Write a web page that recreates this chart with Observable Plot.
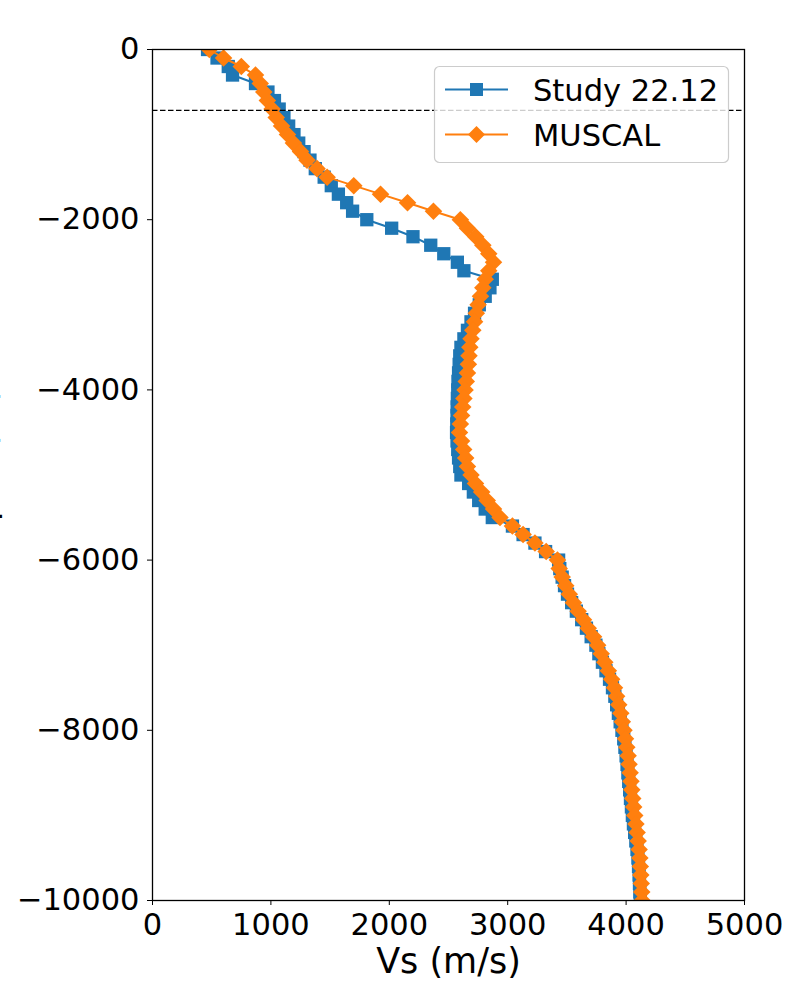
<!DOCTYPE html>
<html><head><meta charset="utf-8">
<script src="https://cdn.jsdelivr.net/npm/d3@7"></script>
<script src="https://cdn.jsdelivr.net/npm/@observablehq/plot@0.6"></script>
<style>
body{margin:0;background:#fff;font-family:"DejaVu Sans",sans-serif;}
#chart{position:relative;width:800px;height:1000px;overflow:hidden;}
#legend{position:absolute;left:0;top:0;pointer-events:none;}
</style></head><body><div id="chart"></div>
<script>
const depths = [0,-100,-200,-300,-400,-500,-600,-700,-800,-900,
 -1000,-1100,-1200,-1300,-1400,-1500,-1600,-1700,-1800,-1900,
 -2000,-2100,-2200,-2300,-2400,-2500,-2600,-2700,-2800,-2900,
 -3000,-3100,-3200,-3300,-3400,-3500,-3600,-3700,-3800,-3900,
 -4000,-4100,-4200,-4300,-4400,-4500,-4600,-4700,-4800,-4900,
 -5000,-5100,-5200,-5300,-5400,-5500,-5600,-5700,-5800,-5900,
 -6000,-6100,-6200,-6300,-6400,-6500,-6600,-6700,-6800,-6900,
 -7000,-7100,-7200,-7300,-7400,-7500,-7600,-7700,-7800,-7900,
 -8000,-8100,-8200,-8300,-8400,-8500,-8600,-8700,-8800,-8900,
 -9000,-9100,-9200,-9300,-9400,-9500,-9600,-9700,-9800,-9900,-10000];
const studyVs = [465,545,640,676,870,975,1030,1070,1110,1150,
 1195,1235,1280,1330,1375,1450,1510,1570,1640,1690,
 1810,2020,2200,2350,2460,2575,2630,2870,2850,2810,
 2760,2720,2690,2660,2630,2605,2595,2590,2585,2580,
 2578,2575,2573,2572,2570,2568,2572,2578,2585,2595,
 2605,2670,2710,2755,2810,2870,3040,3130,3230,3320,
 3430,3440,3460,3480,3505,3540,3580,3625,3665,3705,
 3745,3770,3800,3830,3860,3885,3905,3920,3935,3950,
 3965,3980,3990,4000,4008,4015,4022,4030,4037,4045,
 4053,4062,4072,4082,4092,4100,4105,4110,4113,4116,4120];
const muscalVs = [480,600,750,870,910,940,970,1010,1045,1090,
 1140,1190,1250,1305,1390,1475,1700,1926,2154,2373,
 2600,2660,2730,2790,2840,2880,2840,2810,2790,2770,
 2750,2735,2720,2705,2690,2680,2673,2668,2660,2650,
 2640,2630,2620,2610,2600,2593,2610,2628,2645,2660,
 2690,2728,2780,2827,2880,2935,3040,3130,3230,3325,
 3420,3435,3460,3490,3520,3555,3595,3640,3680,3725,
 3760,3790,3820,3850,3878,3902,3920,3938,3955,3968,
 3982,3995,4006,4017,4025,4034,4041,4048,4056,4064,
 4073,4083,4093,4102,4110,4116,4120,4124,4128,4132,4136];
const seriesNames = ["Study 22.12", "MUSCAL"];
const seriesColors = ["#1f77b4", "#ff7f0e"];
const dashDepth = [-715];
const xTicks = [0,1000,2000,3000,4000,5000];
const yTicks = [0,-2000,-4000,-6000,-8000,-10000];
const xLabel = "Vs (m/s)";
const yLabel = "Depth (m)";

const study = depths.map((d, i) => ({depth: d, vs: studyVs[i]}));
const muscal = depths.map((d, i) => ({depth: d, vs: muscalVs[i]}));
const fmt = d3.format("d");

const plot = Plot.plot({
  width: 800, height: 1000,
  marginLeft: 152, marginRight: 56, marginTop: 49, marginBottom: 100,
  style: {fontFamily: "DejaVu Sans", fontSize: "30.5px", background: "white", color: "black", overflow: "visible"},
  x: {domain: [0, 5000]},
  y: {domain: [-10000, 0]},
  marks: [
    Plot.line(study, {x: "vs", y: "depth", stroke: seriesColors[0], strokeWidth: 2, clip: true}),
    Plot.dot(study, {x: "vs", y: "depth", symbol: "square", r: 7.5, fill: seriesColors[0], stroke: null, clip: true}),
    Plot.line(muscal, {x: "vs", y: "depth", stroke: seriesColors[1], strokeWidth: 2, clip: true}),
    Plot.dot(muscal, {x: "vs", y: "depth", symbol: "diamond2", r: 7.9, fill: seriesColors[1], stroke: null, clip: true}),
    Plot.ruleY(dashDepth, {stroke: "black", strokeWidth: 1.2, strokeDasharray: "5.5,2.5"}),
    Plot.frame({stroke: "black", strokeWidth: 1.3}),
    Plot.axisX({ticks: xTicks, tickFormat: fmt, tickSize: 5, tickPadding: 8, label: null}),
    Plot.axisY({ticks: yTicks, tickFormat: fmt, tickSize: 5, tickPadding: 8, label: null}),
    Plot.text([xLabel], {frameAnchor: "bottom", dy: 72, fontSize: 35}),
    Plot.text([yLabel], {frameAnchor: "left", textAnchor: "middle", dx: -169, dy: 4, rotate: -90, fontSize: 36})
  ]
});
document.getElementById("chart").appendChild(plot);

// legend
const lg = d3.select("#chart").append("svg").attr("id", "legend")
  .attr("width", 800).attr("height", 1000);
lg.append("rect").attr("x", 434.5).attr("y", 66.5).attr("width", 294).attr("height", 96)
  .attr("rx", 5).attr("fill", "white").attr("fill-opacity", 0.8).attr("stroke", "#cccccc").attr("stroke-width", 1.2);
const rowsY = [89.5, 134.5];
seriesNames.forEach((name, i) => {
  const y = rowsY[i];
  lg.append("line").attr("x1", 445).attr("x2", 508).attr("y1", y).attr("y2", y)
    .attr("stroke", seriesColors[i]).attr("stroke-width", 2);
  if (i === 0) {
    lg.append("rect").attr("x", 476.5 - 6.5).attr("y", y - 6.5).attr("width", 13).attr("height", 13)
      .attr("fill", seriesColors[i]);
  } else {
    lg.append("path").attr("d", `M476.5,${y - 8.5}L485,${y}L476.5,${y + 8.5}L468,${y}Z`)
      .attr("fill", seriesColors[i]);
  }
  lg.append("text").attr("x", 533).attr("y", y + 11)
    .attr("font-family", "DejaVu Sans").attr("font-size", 30.5).attr("fill", "black").text(name);
});
</script>
</body></html>
